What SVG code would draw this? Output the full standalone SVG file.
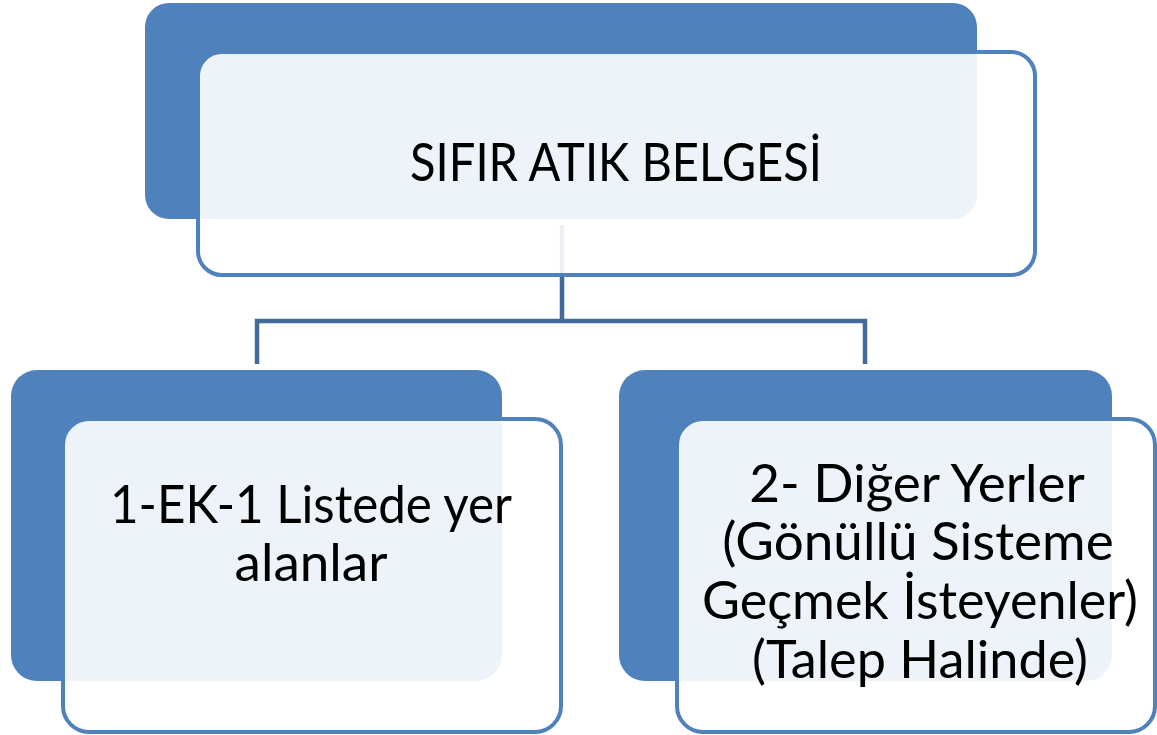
<svg xmlns="http://www.w3.org/2000/svg" width="1157" height="735" viewBox="0 0 1157 735">
<style>
.back{fill:#4f81bd}
.front{fill:#ffffff;fill-opacity:0.9;stroke:#4f81bd;stroke-width:4}
.lbl{font-family:Lato,"Open Sans","Liberation Sans",sans-serif;font-size:53px;fill:#000;text-anchor:middle}
.conn{fill:none;stroke:#41699b;stroke-width:4.5}
</style>
<rect width="1157" height="735" fill="#fff"/>
<g id="connectors">
<path class="conn" d="M562,225 V321 M257,364 V321 H865 V364"/>
</g>
<g id="node-top">
<rect class="back" x="145" y="3" width="832" height="216" rx="24"/>
<rect class="front" x="198" y="52" width="837" height="223" rx="24"/>
<text class="lbl" x="616" y="181" textLength="412" lengthAdjust="spacingAndGlyphs">SIFIR ATIK BELGESİ</text>
</g>
<g id="node-left">
<rect class="back" x="11" y="370" width="491" height="311" rx="26"/>
<rect class="front" x="63" y="419" width="498" height="313" rx="26"/>
<text class="lbl" x="311" y="523" textLength="402" lengthAdjust="spacingAndGlyphs">1-EK-1 Listede yer</text>
<text class="lbl" x="311" y="581">alanlar</text>
</g>
<g id="node-right">
<rect class="back" x="619" y="370" width="493" height="311" rx="26"/>
<rect class="front" x="677" y="419" width="478" height="313" rx="26"/>
<text class="lbl" x="917" y="502">2- Diğer Yerler</text>
<text class="lbl" x="918" y="560">(Gönüllü Sisteme</text>
<text class="lbl" x="920" y="619" textLength="436" lengthAdjust="spacingAndGlyphs">Geçmek İsteyenler)</text>
<text class="lbl" x="920" y="678" textLength="336" lengthAdjust="spacingAndGlyphs">(Talep Halinde)</text>
</g>
</svg>
